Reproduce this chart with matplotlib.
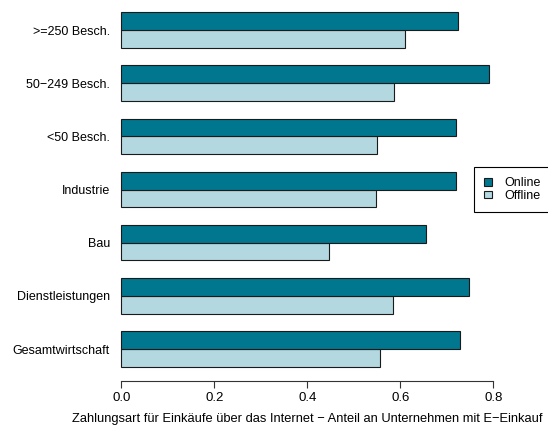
import matplotlib
matplotlib.use("Agg")
import matplotlib.pyplot as plt
from matplotlib.patches import Patch

plt.rcParams['font.family'] = ['Liberation Sans', 'DejaVu Sans']

categories = ["Gesamtwirtschaft", "Dienstleistungen", "Bau", "Industrie",
              "<50 Besch.", "50\u2212249 Besch.", ">=250 Besch."]
online = [0.728, 0.747, 0.655, 0.720, 0.719, 0.791, 0.725]
offline = [0.557, 0.584, 0.447, 0.547, 0.550, 0.586, 0.611]
series_names = ["Online", "Offline"]
xticks = [0.0, 0.2, 0.4, 0.6, 0.8]
xlabel = "Zahlungsart f\u00fcr Eink\u00e4ufe \u00fcber das Internet \u2212 Anteil an Unternehmen mit E\u2212Einkauf"

col_online = "#00778F"
col_offline = "#B3D8E0"
edge = "#1a1a1a"

W, H = 548, 428
fig = plt.figure(figsize=(W / 100, H / 100), dpi=100)

# plot region in pixels (from top-left)
left_px, right_px = 110.5, 504.0
top_px, bottom_px = -1.9, 380.9
ax = fig.add_axes([left_px / W, 1 - bottom_px / H,
                   (right_px - left_px) / W, (bottom_px - top_px) / H])

n = len(categories)
off_pos = [3 * i + 1.5 for i in range(n)]
on_pos = [3 * i + 2.5 for i in range(n)]
ax.barh(off_pos, offline, height=1.0, color=col_offline, edgecolor=edge, linewidth=0.8)
ax.barh(on_pos, online, height=1.0, color=col_online, edgecolor=edge, linewidth=0.8)

ax.set_xlim(-0.0232, 0.823)
ax.set_ylim(0.2, 21.8)

ax.set_yticks([3 * i + 2 for i in range(n)])
ax.set_yticklabels(categories, fontsize=9)
ax.tick_params(axis='y', length=0, pad=0.5)

ax.set_xticks(xticks)
ax.set_xticklabels([f"{t:.1f}" for t in xticks], fontsize=9.5)
ax.tick_params(axis='x', direction='out', length=5, width=0.8, pad=3.2, color='#333333')

for s in ['top', 'right', 'left']:
    ax.spines[s].set_visible(False)
ax.spines['bottom'].set_bounds(0, 0.8)
ax.spines['bottom'].set_linewidth(0.8)
ax.spines['bottom'].set_color('#333333')
ax.patch.set_visible(False)

fig.text(307.5 / W, 1 - 419 / H, xlabel, ha='center', va='center', fontsize=9.3)

handles = [Patch(facecolor=col_online, edgecolor=edge, linewidth=0.8),
           Patch(facecolor=col_offline, edgecolor=edge, linewidth=0.8)]
leg = fig.legend(handles, series_names, loc='upper left',
                 bbox_to_anchor=(474 / W, 1 - 167.3 / H), borderaxespad=0,
                 fontsize=9, frameon=True, fancybox=False, framealpha=1,
                 edgecolor='black', handlelength=0.62, handleheight=0.55,
                 handletextpad=1.0, borderpad=0.8, labelspacing=0.05)
leg.get_frame().set_linewidth(0.8)

fig.savefig("out.png", dpi=100)
